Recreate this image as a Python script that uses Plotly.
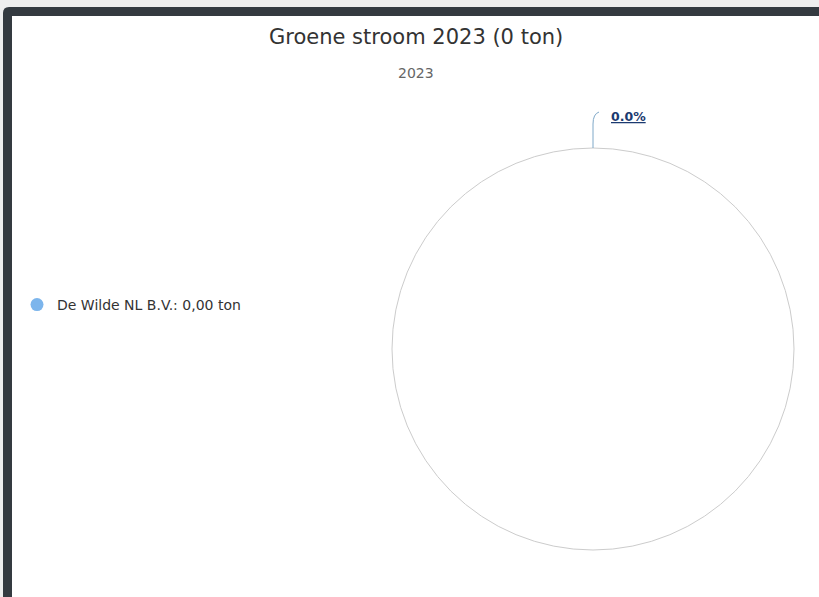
import plotly.graph_objects as go

# Data
year = 2023
suppliers = ["De Wilde NL B.V."]
tonnage = [0.0]
series_color = ["#7cb5ec"]

W, H = 819, 597
total = sum(tonnage)


def px(x):
    return x / W


def py(y):
    return 1 - y / H


def nl_number(v, decimals=2):
    return f"{v:.{decimals}f}".replace(".", ",")


shares = [(v / total * 100) if total else 0.0 for v in tonnage]

fig = go.Figure()

# pie with the supplier tonnage (a zero total leaves no visible slices)
fig.add_trace(go.Pie(
    labels=suppliers,
    values=tonnage,
    marker=dict(colors=series_color, line=dict(color="#ffffff", width=1)),
    domain=dict(x=[px(392), px(794)], y=[py(550), py(148)]),
    textinfo="none",
    sort=False,
    showlegend=False,
    hoverinfo="skip",
))

# legend entries
for name, val, col in zip(suppliers, tonnage, series_color):
    fig.add_trace(go.Scatter(
        x=[None], y=[None], mode="markers",
        name=f"{name}: {nl_number(val)} ton",
        marker=dict(symbol="circle", size=13, color=col),
    ))

shapes = []
# card frame: dark rounded border on a light page
shapes.append(dict(
    type="path", xref="paper", yref="paper", layer="below",
    path=(f"M {px(3)},{py(640)} L {px(3)},{py(13)} "
          f"Q {px(3)},{py(7)} {px(9)},{py(7)} "
          f"L {px(860)},{py(7)} L {px(860)},{py(640)} Z"),
    fillcolor="#343a40", line=dict(width=0),
))
shapes.append(dict(
    type="rect", xref="paper", yref="paper", layer="below",
    x0=px(12), x1=px(860), y0=py(640), y1=py(16),
    fillcolor="#ffffff", line=dict(width=0),
))
# empty pie outline
shapes.append(dict(
    type="circle", xref="paper", yref="paper", layer="above",
    x0=px(392), x1=px(794), y0=py(550), y1=py(148),
    line=dict(color="#cccccc", width=1), fillcolor="rgba(0,0,0,0)",
))
# data label connector
shapes.append(dict(
    type="path", xref="paper", yref="paper", layer="above",
    path=(f"M {px(593)},{py(148)} L {px(593)},{py(124)} "
          f"Q {px(593)},{py(114)} {px(599)},{py(112)}"),
    line=dict(color="#7fa8c8", width=1),
))

annotations = [
    dict(text=f"Groene stroom {year} ({total:.0f} ton)",
         x=px(416), y=py(37), xref="paper", yref="paper",
         xanchor="center", yanchor="middle", showarrow=False,
         font=dict(family="DejaVu Sans", size=21, color="#333333")),
    dict(text=str(year),
         x=px(416), y=py(73), xref="paper", yref="paper",
         xanchor="center", yanchor="middle", showarrow=False,
         font=dict(family="DejaVu Sans", size=14, color="#666666")),
]
for s in shares:
    annotations.append(dict(
        text=f"<b><u>{s:.1f}%</u></b>",
        x=px(609), y=py(117), xref="paper", yref="paper",
        xanchor="left", yanchor="middle", showarrow=False,
        font=dict(family="DejaVu Sans", size=12.5, color="#1b3a70"),
    ))

fig.update_layout(
    width=W, height=H,
    margin=dict(l=0, r=0, t=0, b=0),
    paper_bgcolor="#eeeeee",
    plot_bgcolor="rgba(0,0,0,0)",
    xaxis=dict(visible=False),
    yaxis=dict(visible=False),
    shapes=shapes,
    annotations=annotations,
    showlegend=True,
    legend=dict(
        x=px(17), y=py(305), xanchor="left", yanchor="middle",
        bgcolor="rgba(0,0,0,0)",
        font=dict(family="DejaVu Sans", size=14, color="#333333"),
    ),
)

fig.write_html("out.html")
